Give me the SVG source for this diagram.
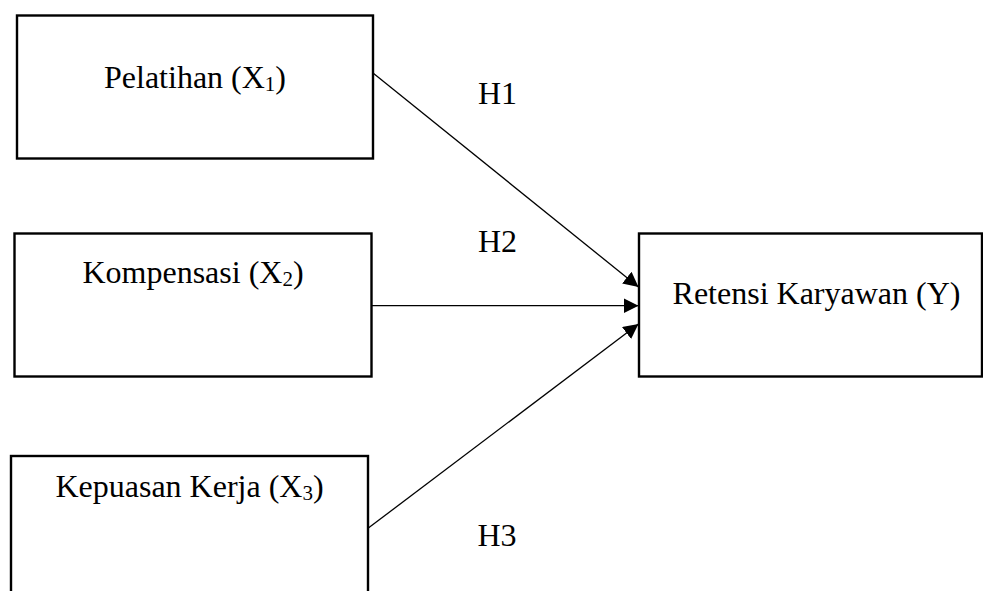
<svg xmlns="http://www.w3.org/2000/svg" width="983" height="591" viewBox="0 0 983 591">
<style>
.box{fill:#fff;stroke:#000;stroke-width:2.4}
.lbl{font-family:"Liberation Serif","Times New Roman",serif;font-size:32px;fill:#000}
.edge{stroke:#000;stroke-width:1.3;fill:none;marker-end:url(#ah)}
</style>
<defs>
<marker id="ah" markerUnits="userSpaceOnUse" markerWidth="16" markerHeight="16" refX="15" refY="7.5" orient="auto">
<path d="M0,0 L15,7.5 L0,15 z" fill="#000"/>
</marker>
</defs>
<rect width="983" height="591" fill="#fff"/>
<g id="x1">
<rect class="box" x="17" y="15.5" width="356" height="143"/>
<text class="lbl" x="195" y="88" text-anchor="middle">Pelatihan (X<tspan font-size="21" dy="3">1</tspan><tspan dy="-3">)</tspan></text>
</g>
<g id="x2">
<rect class="box" x="14.5" y="233.5" width="357" height="143"/>
<text class="lbl" x="193" y="283" text-anchor="middle">Kompensasi (X<tspan font-size="21" dy="3">2</tspan><tspan dy="-3">)</tspan></text>
</g>
<g id="x3">
<rect class="box" x="11" y="456" width="357" height="150"/>
<text class="lbl" x="189.5" y="497" text-anchor="middle">Kepuasan Kerja (X<tspan font-size="21" dy="3">3</tspan><tspan dy="-3">)</tspan></text>
</g>
<g id="y">
<rect class="box" x="639" y="233.5" width="343" height="143"/>
<text class="lbl" x="816.5" y="304" text-anchor="middle">Retensi Karyawan (Y)</text>
</g>
<g id="connectors">
<line class="edge" x1="373" y1="73" x2="638.5" y2="287"/>
<line class="edge" x1="371.5" y1="305.7" x2="638.5" y2="305.7"/>
<line class="edge" x1="368" y1="528.3" x2="638.5" y2="324"/>
<text class="lbl" x="478" y="104">H1</text>
<text class="lbl" x="478" y="252">H2</text>
<text class="lbl" x="477.5" y="546">H3</text>
</g>
</svg>
